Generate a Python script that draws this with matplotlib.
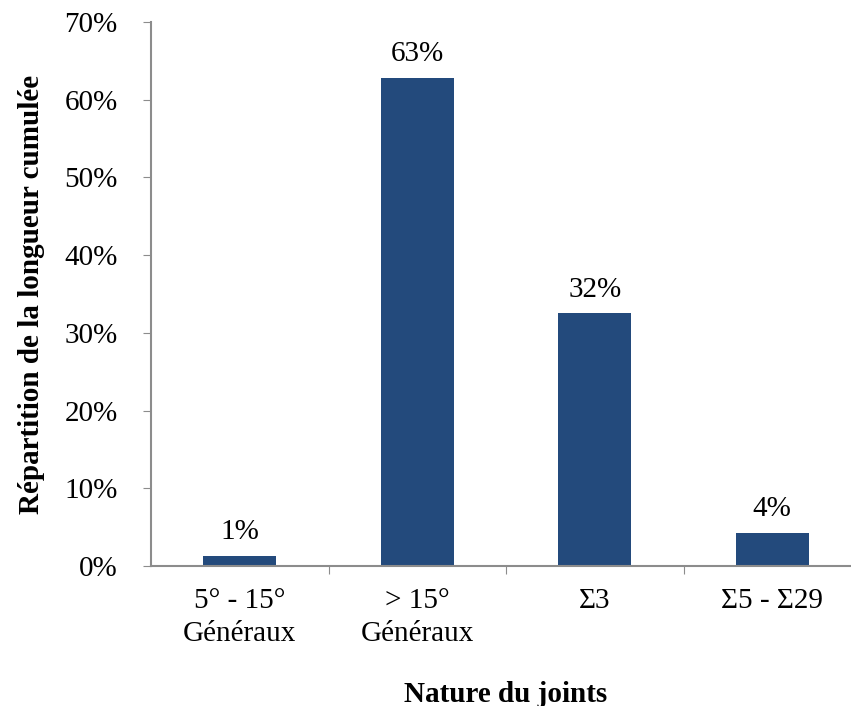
import matplotlib
matplotlib.use('Agg')
import matplotlib.pyplot as plt
from matplotlib.ticker import FuncFormatter

categories = ['5° - 15°\nGénéraux', '> 15°\nGénéraux', 'Σ3', 'Σ5 - Σ29']
values = [1.3, 62.8, 32.5, 4.2]
labels = ['1%', '63%', '32%', '4%']
yticks = [0, 10, 20, 30, 40, 50, 60, 70]

plt.rcParams['font.family'] = ['Liberation Serif', 'DejaVu Serif']

fig = plt.figure(figsize=(8.51, 7.06), dpi=100)
ax = fig.add_axes([151/851, 1-566/706, 710/851, 544/706])

x = range(len(categories))
bars = ax.bar(x, values, width=0.41, color='#234a7c')

for b, lab in zip(bars, labels):
    ax.text(b.get_x() + b.get_width()/2, b.get_height() + 1.4, lab,
            ha='center', va='bottom', fontsize=21)

ax.set_xlim(-0.5, 3.5)
ax.set_ylim(0, 70)
ax.set_yticks(yticks)
ax.yaxis.set_major_formatter(FuncFormatter(lambda v, p: f'{v:.0f}%'))
ax.set_xticks([0.5, 1.5, 2.5])
ax.set_xticks(list(x), minor=True)
ax.set_xticklabels(categories, minor=True, fontsize=21, va='top', linespacing=1.35)
ax.tick_params(axis='x', which='minor', length=0, pad=16)
ax.tick_params(axis='x', which='major', length=6, color='#8c8c8c', labelbottom=False)
ax.tick_params(axis='y', length=6, color='#8c8c8c', labelsize=21, pad=18)

for s in ['top', 'right']:
    ax.spines[s].set_visible(False)
for s in ['left', 'bottom']:
    ax.spines[s].set_color('#8c8c8c')
    ax.spines[s].set_linewidth(1.5)

ax.set_ylabel('Répartition de la longueur cumulée', fontsize=21, fontweight='bold', labelpad=14)
ax.set_xlabel('Nature du joints', fontsize=21, fontweight='bold', labelpad=24)

fig.savefig('out.png', dpi=100)
